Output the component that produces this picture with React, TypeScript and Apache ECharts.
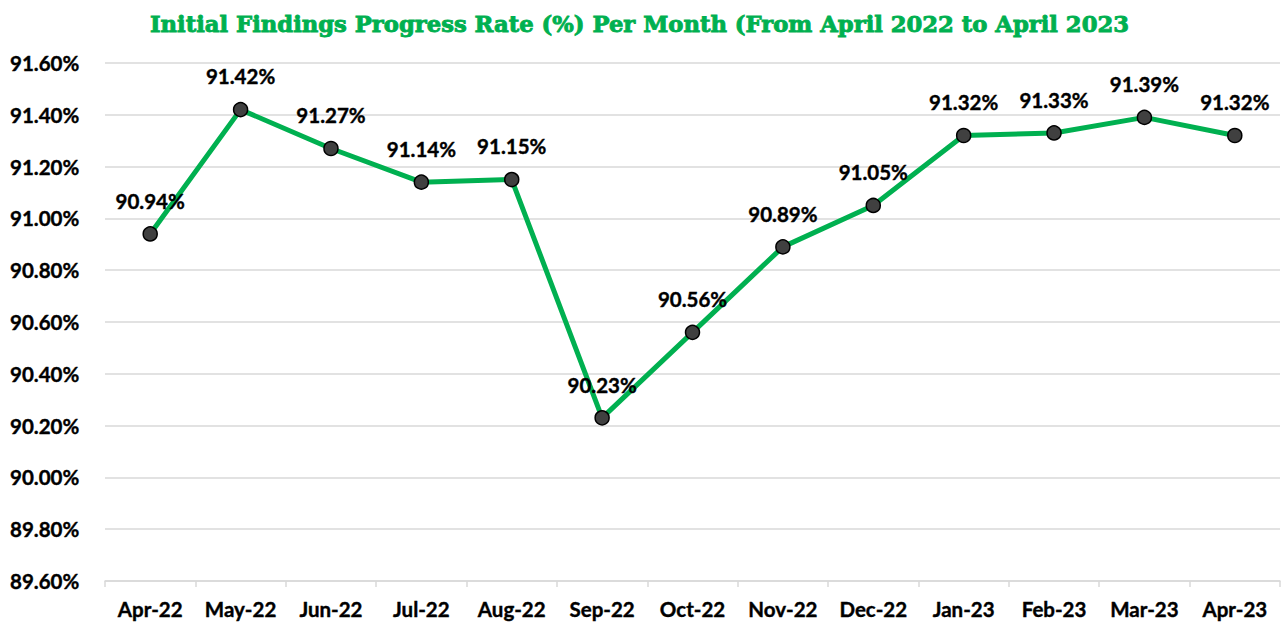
import React, { useEffect, useRef } from "react";
import * as echarts from "echarts";

const titleText = "Initial Findings Progress Rate (%) Per Month (From April 2022 to April 2023";
const months = ["Apr-22", "May-22", "Jun-22", "Jul-22", "Aug-22", "Sep-22", "Oct-22", "Nov-22", "Dec-22", "Jan-23", "Feb-23", "Mar-23", "Apr-23"];
const rates = [90.94, 91.42, 91.27, 91.14, 91.15, 90.23, 90.56, 90.89, 91.05, 91.32, 91.33, 91.39, 91.32];
const yMin = 89.6;
const yMax = 91.6;
const yStep = 0.2;

export default function App() {
  const ref = useRef<HTMLDivElement>(null);
  useEffect(() => {
    if (!ref.current) return;
    const chart = echarts.init(ref.current, null, { renderer: "svg" });
    const boldText = { textBorderColor: "#000", textBorderWidth: 0.4 };
    chart.setOption({
      animation: false,
      backgroundColor: "#ffffff",
      title: {
        text: titleText,
        left: 145,
        top: 7,
        textStyle: {
          fontFamily: "DejaVu Serif",
          fontWeight: "bold",
          fontSize: 22.7,
          color: "#00B050",
          textBorderColor: "#00B050",
          textBorderWidth: 0.9,
        },
      },
      grid: { left: 105, right: 4, top: 63, bottom: 43, containLabel: false },
      xAxis: {
        type: "category",
        data: months,
        boundaryGap: true,
        axisLine: { show: true, lineStyle: { color: "#d9d9d9", width: 1.5 } },
        axisTick: { show: true, alignWithLabel: false, length: 6, lineStyle: { color: "#d9d9d9", width: 1.5 } },
        axisLabel: {
          interval: 0,
          color: "#000",
          fontFamily: "Lato",
          fontWeight: "bold",
          fontSize: 20.5,
          margin: 17,
          ...boldText,
        },
      },
      yAxis: {
        type: "value",
        min: yMin,
        max: yMax,
        interval: yStep,
        axisLine: { show: false },
        axisTick: { show: false },
        splitLine: { lineStyle: { color: "#d9d9d9", width: 1.5 } },
        axisLabel: {
          color: "#000",
          fontFamily: "Lato",
          fontWeight: "bold",
          fontSize: 20.5,
          margin: 0,
          align: "left",
          padding: [0, 0, 0, -95],
          formatter: (v: number) => v.toFixed(2) + "%",
          ...boldText,
        },
      },
      series: [
        {
          type: "line",
          data: rates,
          symbol: "circle",
          symbolSize: 14,
          lineStyle: { color: "#00B050", width: 5 },
          itemStyle: { color: "#404040", borderColor: "#000", borderWidth: 1.5 },
          label: {
            show: true,
            position: "top",
            distance: 15,
            color: "#000",
            fontFamily: "Lato",
            fontWeight: "bold",
            fontSize: 20.5,
            formatter: (p: any) => p.value.toFixed(2) + "%",
            ...boldText,
          },
          z: 3,
        },
      ],
    });
    return () => chart.dispose();
  }, []);
  return (
    <div
      ref={ref}
      style={{ position: "absolute", left: 0, top: 0, width: 1284, height: 624 }}
    />
  );
}
